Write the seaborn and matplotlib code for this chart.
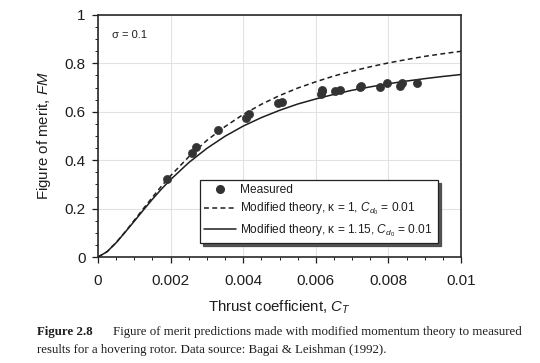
import matplotlib
matplotlib.use("Agg")
import matplotlib.pyplot as plt
import seaborn as sns
import pandas as pd
from matplotlib.lines import Line2D
from matplotlib.ticker import MultipleLocator

# ---- data ----
ct_measured = [0.00191, 0.00258, 0.00269, 0.00331, 0.00409, 0.00416, 0.00496, 0.00507,
               0.00613, 0.00616, 0.00618, 0.00654, 0.00668, 0.00721, 0.00724, 0.00777,
               0.00797, 0.00832, 0.00837, 0.00878]
fm_measured = [0.321, 0.430, 0.454, 0.523, 0.574, 0.589, 0.636, 0.641,
               0.674, 0.684, 0.692, 0.684, 0.691, 0.703, 0.705, 0.703,
               0.717, 0.705, 0.717, 0.717]

ct_theory = [0.0, 0.00025, 0.0005, 0.00075, 0.001, 0.00125, 0.0015, 0.00175, 0.002,
             0.0025, 0.003, 0.0035, 0.004, 0.0045, 0.005, 0.0055, 0.006, 0.0065,
             0.007, 0.0075, 0.008, 0.0085, 0.009, 0.0095, 0.01]
fm_kappa_1 = [0.0, 0.022, 0.060, 0.104, 0.152, 0.200, 0.247, 0.293, 0.336,
              0.414, 0.482, 0.539, 0.589, 0.631, 0.667, 0.698, 0.724, 0.748,
              0.768, 0.786, 0.802, 0.816, 0.829, 0.840, 0.850]
fm_kappa_115 = [0.0, 0.022, 0.059, 0.103, 0.148, 0.194, 0.239, 0.281, 0.320,
                0.390, 0.449, 0.499, 0.541, 0.576, 0.606, 0.632, 0.653, 0.672,
                0.689, 0.703, 0.716, 0.727, 0.737, 0.746, 0.754]

x_ticks = [0, 0.002, 0.004, 0.006, 0.008, 0.01]
x_tick_labels = ["0", "0.002", "0.004", "0.006", "0.008", "0.01"]
y_ticks = [0, 0.2, 0.4, 0.6, 0.8, 1.0]
y_tick_labels = ["0", "0.2", "0.4", "0.6", "0.8", "1"]

legend_labels = ["Measured",
                 r"Modified theory, κ = 1, $C_{d_0}$ = 0.01",
                 r"Modified theory, κ = 1.15, $C_{d_0}$ = 0.01"]

# ---- styling ----
sns.set_theme(style="ticks")
plt.rcParams["font.family"] = ["Liberation Sans", "DejaVu Sans"]
plt.rcParams["mathtext.fontset"] = "custom"
plt.rcParams["mathtext.rm"] = "Liberation Sans"
plt.rcParams["mathtext.it"] = "Liberation Sans:italic"
plt.rcParams["mathtext.bf"] = "Liberation Sans:bold"

ink = "#1e1e1e"
fig = plt.figure(figsize=(5.4, 3.63), dpi=100)
fig.patch.set_facecolor("white")
ax = fig.add_axes([0.1815, 0.292, 0.6722, 0.6667])

df_th = pd.DataFrame({"ct": ct_theory, "k1": fm_kappa_1, "k115": fm_kappa_115})
df_me = pd.DataFrame({"ct": ct_measured, "fm": fm_measured})

sns.lineplot(data=df_th, x="ct", y="k1", ax=ax, color=ink, linewidth=1.1,
             linestyle=(0, (3.2, 2.2)), zorder=3)
sns.lineplot(data=df_th, x="ct", y="k115", ax=ax, color=ink, linewidth=1.1, zorder=3)
sns.scatterplot(data=df_me, x="ct", y="fm", ax=ax, color="#333333", s=34,
                edgecolor="#333333", linewidth=0.5, zorder=4)

ax.set_xlim(0, 0.01)
ax.set_ylim(0, 1)
ax.set_xticks(x_ticks)
ax.set_xticklabels(x_tick_labels)
ax.set_yticks(y_ticks)
ax.set_yticklabels(y_tick_labels)
ax.xaxis.set_minor_locator(MultipleLocator(0.0005))
ax.yaxis.set_minor_locator(MultipleLocator(0.05))
ax.tick_params(which="major", direction="out", length=4, width=0.9, colors=ink,
               labelsize=11, pad=5)
ax.tick_params(which="minor", direction="out", length=2.5, width=0.7, colors=ink)
ax.tick_params(axis="x", pad=8)
ax.grid(True, which="major", color="#e2e2e2", linewidth=0.8)
ax.set_axisbelow(True)
for sp in ax.spines.values():
    sp.set_color("#2a2a2a")
    sp.set_linewidth(1.2)

ax.set_xlabel(r"Thrust coefficient, $C_T$", fontsize=10.8, color=ink, labelpad=8)
ax.set_ylabel(r"Figure of merit, $FM$", fontsize=10.8, color=ink, labelpad=8)

ax.text(0.039, 0.917, "σ = 0.1", transform=ax.transAxes, fontsize=8, color=ink,
        va="center", ha="left")

handles = [Line2D([], [], marker="o", linestyle="none", color="#333333", markersize=5.5),
           Line2D([], [], color=ink, linewidth=1.1, linestyle=(0, (3.2, 2.2))),
           Line2D([], [], color=ink, linewidth=1.1)]
leg = ax.legend(handles, legend_labels, loc="lower left",
                bbox_to_anchor=(0.281, 0.058, 0.655, 0.24), mode="expand",
                fontsize=8.6, frameon=True, fancybox=False,
                shadow={"color": "#444444", "alpha": 0.9},
                handlelength=2.7, handletextpad=0.3, borderpad=0.35, labelspacing=0.4,
                borderaxespad=0)
leg.get_frame().set_edgecolor("#222222")
leg.get_frame().set_linewidth(0.9)
for t in leg.get_texts():
    t.set_color(ink)

# caption
cap_fs = 9.3
fig.text(37 / 540, 1 - 332 / 363, "Figure 2.8", fontsize=cap_fs, fontweight="bold",
         family="Liberation Serif", color=ink, va="center", ha="left")
fig.text(113 / 540, 1 - 332 / 363,
         "Figure of merit predictions made with modified momentum theory to measured",
         fontsize=cap_fs, family="Liberation Serif", color=ink, va="center", ha="left")
fig.text(37 / 540, 1 - 350 / 363,
         "results for a hovering rotor. Data source: Bagai & Leishman (1992).",
         fontsize=cap_fs, family="Liberation Serif", color=ink, va="center", ha="left")

fig.savefig("out.png", dpi=100, facecolor="white")
